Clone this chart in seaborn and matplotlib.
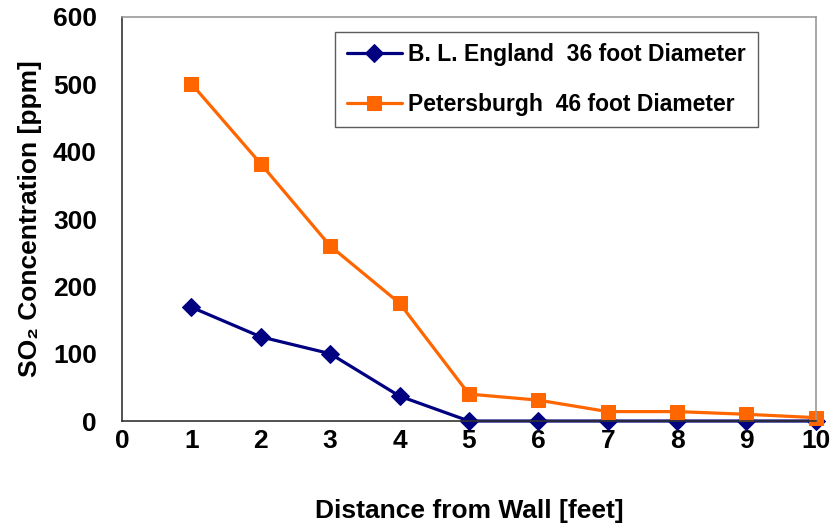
import pandas as pd
import matplotlib
matplotlib.use("Agg")
import matplotlib.pyplot as plt
import seaborn as sns

# data
distance = [1, 2, 3, 4, 5, 6, 7, 8, 9, 10]
england = [169, 125, 100, 37, 0, 0, 0, 0, 0, 0]
petersburgh = [501, 382, 260, 175, 40, 31, 14, 14, 10, 5]

label_eng = "B. L. England  36 foot Diameter"
label_pet = "Petersburgh  46 foot Diameter"

sns.set_style("white")
plt.rcParams['font.family'] = ['Liberation Sans', 'DejaVu Sans']
plt.rcParams['font.weight'] = 'bold'
plt.rcParams['text.color'] = 'black'
plt.rcParams['axes.labelcolor'] = 'black'
plt.rcParams['xtick.labelcolor'] = 'black'
plt.rcParams['ytick.labelcolor'] = 'black'

df_eng = pd.DataFrame({'distance': distance, 'so2': england})
df_pet = pd.DataFrame({'distance': distance, 'so2': petersburgh})

fig = plt.figure(figsize=(8.31, 5.23), dpi=100)
ax = fig.add_axes([0.1468, 0.195, 0.835, 0.7725])

sns.lineplot(data=df_eng, x='distance', y='so2', ax=ax, color='#000080',
             marker='D', markersize=9.5, markeredgecolor='#000080',
             linewidth=2.3, label=label_eng, clip_on=False)
sns.lineplot(data=df_pet, x='distance', y='so2', ax=ax, color='#FF6600',
             marker='s', markersize=10.5, markeredgecolor='#FF6600',
             linewidth=2.3, label=label_pet, clip_on=False)

ax.set_xlim(0, 10)
ax.set_ylim(0, 600)
ax.set_xticks(range(0, 11))
ax.set_yticks(range(0, 601, 100))
ax.tick_params(axis='both', labelsize=19, direction='out', length=6,
               width=1, color='#333333')
ax.tick_params(axis='y', pad=12)
ax.tick_params(axis='x', pad=0)
for lab in ax.get_xticklabels() + ax.get_yticklabels():
    lab.set_fontweight('bold')

ax.set_xlabel("Distance from Wall [feet]", fontsize=19, fontweight='bold', labelpad=33)
ax.set_ylabel("SO\u2082 Concentration [ppm]", fontsize=19, fontweight='bold', labelpad=8)

for side in ['left', 'bottom']:
    ax.spines[side].set_color('#333333')
    ax.spines[side].set_linewidth(1.2)
for side in ['top', 'right']:
    ax.spines[side].set_color('#999999')
    ax.spines[side].set_linewidth(1.2)

leg = ax.legend(loc='upper right', bbox_to_anchor=(0.916, 0.963), fontsize=16.5,
                frameon=True, fancybox=False, edgecolor='#333333',
                handlelength=2.44, handletextpad=0.26, borderpad=0.5,
                labelspacing=1.15, borderaxespad=0)
leg.get_frame().set_linewidth(1.0)
for t in leg.get_texts():
    t.set_fontweight('bold')

fig.savefig("out.png", dpi=100)
